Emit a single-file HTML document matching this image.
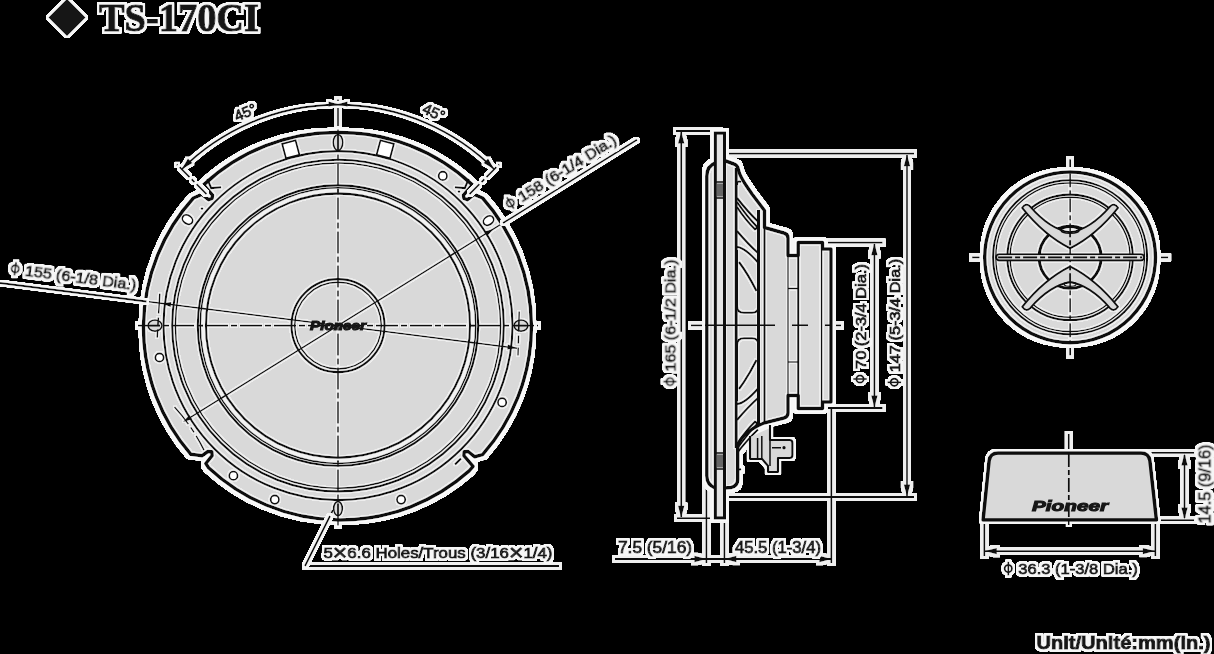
<!DOCTYPE html>
<html><head><meta charset="utf-8">
<style>
html,body{margin:0;padding:0;background:#000;}
body{width:1214px;height:654px;overflow:hidden;font-family:"Liberation Sans",sans-serif;}
svg{display:block;position:absolute;left:0;top:0;filter:blur(0.6px);}
text{font-family:"Liberation Sans",sans-serif;fill:#151515;stroke:#151515;stroke-width:1.0;}
.t{font-size:15px;}
.ln{stroke:#111;stroke-width:1.5;fill:none;}
.tk{stroke:#111;stroke-width:3.5;fill:none;}
.md{stroke:#111;stroke-width:2.1;fill:none;}
.g{fill:#d9d9d9;}
.w{fill:#fff;stroke:#111;stroke-width:1.7;}
.ar{fill:#111;stroke:none;}
.ho{fill:#d9d9d9;stroke:#111;stroke-width:1.5;}
.cl{stroke:#111;stroke-width:1.7;fill:none;stroke-dasharray:22 3 6 3;}
#dims .ln,#diag .ln{stroke-width:1.8;}
</style></head>
<body>
<svg width="1214" height="654" viewBox="0 0 1214 654">
<defs>
<filter id="halo" filterUnits="userSpaceOnUse" x="0" y="0" width="1214" height="654">
  <feComponentTransfer in="SourceAlpha" result="a"><feFuncA type="linear" slope="6"/></feComponentTransfer>
  <feMorphology in="a" operator="dilate" radius="2.1" result="d"/>
  <feGaussianBlur in="d" stdDeviation="0.6" result="b"/>
  <feFlood flood-color="#f6f6f6"/>
  <feComposite in2="b" operator="in" result="h"/>
  <feMerge><feMergeNode in="h"/><feMergeNode in="SourceGraphic"/></feMerge>
</filter>
<filter id="halo2" filterUnits="userSpaceOnUse" x="0" y="0" width="400" height="60">
  <feComponentTransfer in="SourceAlpha" result="a"><feFuncA type="linear" slope="6"/></feComponentTransfer>
  <feMorphology in="a" operator="dilate" radius="1.7" result="d"/>
  <feGaussianBlur in="d" stdDeviation="0.6" result="b"/>
  <feFlood flood-color="#f6f6f6"/>
  <feComposite in2="b" operator="in" result="h"/>
  <feMerge><feMergeNode in="h"/><feMergeNode in="SourceGraphic"/></feMerge>
</filter>
<filter id="inh" filterUnits="userSpaceOnUse" x="-400" y="-400" width="2000" height="1400">
  <feComponentTransfer in="SourceAlpha" result="a"><feFuncA type="linear" slope="6"/></feComponentTransfer>
  <feMorphology in="a" operator="dilate" radius="1.3" result="d"/>
  <feGaussianBlur in="d" stdDeviation="0.5" result="b"/>
  <feFlood flood-color="#fff" flood-opacity="0.55"/>
  <feComposite in2="b" operator="in" result="h"/>
  <feMerge><feMergeNode in="h"/><feMergeNode in="SourceGraphic"/></feMerge>
</filter>
<filter id="haloB" filterUnits="userSpaceOnUse" x="0" y="0" width="1214" height="654">
  <feComponentTransfer in="SourceAlpha" result="a"><feFuncA type="linear" slope="6"/></feComponentTransfer>
  <feMorphology in="a" operator="dilate" radius="3.2" result="d"/>
  <feGaussianBlur in="d" stdDeviation="0.6" result="b"/>
  <feFlood flood-color="#efefef"/>
  <feComposite in2="b" operator="in" result="h"/>
  <feMerge><feMergeNode in="h"/><feMergeNode in="SourceGraphic"/></feMerge>
</filter>
<filter id="halo4" filterUnits="userSpaceOnUse" x="0" y="0" width="1214" height="654">
  <feComponentTransfer in="SourceAlpha" result="a"><feFuncA type="linear" slope="6"/></feComponentTransfer>
  <feMorphology in="a" operator="dilate" radius="1.9" result="d"/>
  <feGaussianBlur in="d" stdDeviation="0.6" result="b"/>
  <feFlood flood-color="#f6f6f6"/>
  <feComposite in2="b" operator="in" result="h"/>
  <feMerge><feMergeNode in="h"/><feMergeNode in="SourceGraphic"/></feMerge>
</filter>
<filter id="halo3" filterUnits="userSpaceOnUse" x="0" y="0" width="1214" height="654">
  <feComponentTransfer in="SourceAlpha" result="a"><feFuncA type="linear" slope="6"/></feComponentTransfer>
  <feMorphology in="a" operator="dilate" radius="2.1" result="d"/>
  <feGaussianBlur in="d" stdDeviation="0.7" result="b"/>
  <feFlood flood-color="#f6f6f6"/>
  <feComposite in2="b" operator="in" result="h"/>
  <feMerge><feMergeNode in="h"/><feMergeNode in="SourceGraphic"/></feMerge>
</filter>
<g id="phi"><circle cx="5" cy="-5.5" r="3.6" fill="none" stroke="#151515" stroke-width="2"/><path d="M5 -12.3 V1.3" stroke="#151515" stroke-width="1.8" fill="none"/></g>
<path id="ah" d="M0 0 L-12 -3.2 L-12 3.2 Z" fill="#111"/>
<path id="ahs" d="M0 0 L-9 -2.6 L-9 2.6 Z" fill="#111"/>
</defs>
<rect width="1214" height="654" fill="#000"/>
<!-- TITLE -->
<g id="title" filter="url(#halo2)">
<path d="M67 -1 L85.5 17.5 L67 36 L48.5 17.5 Z" fill="#151515"/>
<text x="99" y="31" style="font-family:'Liberation Serif',serif;font-weight:bold;font-size:40px" textLength="160" lengthAdjust="spacingAndGlyphs">TS-170CI</text>
</g>

<g id="dims" filter="url(#haloB)">
<path class="ln" d="M338 131 V99.5"/>
<path class="ln" d="M305 566 H559"/>
<path class="ln" d="M676 131 H720 M677 518.2 H724 M681.2 132 V517"/>
<use href="#ah" transform="translate(681.2,131.5) rotate(-90)"/>
<use href="#ah" transform="translate(681.2,517.7) rotate(90)"/>
<path class="ln" d="M727.5 153.6 H914 M727.5 497 H914 M907 155 V496"/>
<use href="#ah" transform="translate(907,154.2) rotate(-90)"/>
<use href="#ah" transform="translate(907,496.4) rotate(90)"/>
<path class="ln" d="M825 242.6 H882.5 M825 408 H882.5 M874.4 244 V407"/>
<use href="#ah" transform="translate(874.4,243.2) rotate(-90)"/>
<use href="#ah" transform="translate(874.4,407.4) rotate(90)"/>
<path class="ln" d="M706.4 480 V563 M724.4 515 V563 M831.3 400 V563 M615 559 H831.3"/>
<use href="#ah" transform="translate(706.4,559) rotate(0)"/>
<use href="#ah" transform="translate(724.4,559) rotate(180)"/>
<use href="#ah" transform="translate(831.3,559) rotate(0)"/>
<path class="ln" d="M691 325.3 H706 M832 325.3 H841"/>
<path class="ln" d="M1070.1 159.3 V173 M1070.1 341.5 V355.3 M972.1 257.3 H986 M1154.2 257.3 H1168.1"/>
<path class="ln" d="M1149 452.9 H1194 M1157 520.1 H1194 M1184.5 455 V518"/>
<use href="#ah" transform="translate(1184.5,453.6) rotate(-90)"/>
<use href="#ah" transform="translate(1184.5,519.4) rotate(90)"/>
<path class="ln" d="M984.3 521 V556 M1155.3 521 V556 M985 551.1 H1154.6"/>
<use href="#ah" transform="translate(984.8,551.1) rotate(180)"/>
<use href="#ah" transform="translate(1154.8,551.1) rotate(0)"/>
<path class="ln" d="M1068.8 434 V452"/>
</g>
<g filter="url(#halo)">

<!-- MAIN SPEAKER -->
<g id="main" transform="translate(338,325.6)">
<!-- extension lines for 45deg dimension (drawn beneath) -->
<!-- outer body -->
<path class="g" d="M0.0 -193.0 A193 193 0 0 1 134.4 -140.7 L125.5 -130.5 L125.9 -127.3 L129.4 -125.9 L136.1 -131.2 L144.6 -127.6 A193 193 0 0 1 144.6 129.0 L136.8 131.2 L130.1 125.9 L126.2 126.2 L125.9 130.1 L135.1 140.7 L131.2 145.3 A193 193 0 0 1 -129.4 142.1 L-132.2 137.9 L-125.9 130.1 L-126.2 126.2 L-130.1 125.9 L-135.8 130.1 L-147.1 128.7 A193 193 0 0 1 -144.6 -127.6 L-136.1 -131.2 L-129.4 -125.9 L-125.9 -127.3 L-125.5 -130.5 L-134.4 -140.7 A193 193 0 0 1 0.0 -193.0 Z"/>
<g filter="url(#inh)">
<path class="tk" d="M0.0 -193.0 A193 193 0 0 1 134.4 -140.7 L125.5 -130.5 L125.9 -127.3 L129.4 -125.9 L136.1 -131.2 L144.6 -127.6 A193 193 0 0 1 144.6 129.0 L136.8 131.2 L130.1 125.9 L126.2 126.2 L125.9 130.1 L135.1 140.7 L131.2 145.3 A193 193 0 0 1 -129.4 142.1 L-132.2 137.9 L-125.9 130.1 L-126.2 126.2 L-130.1 125.9 L-135.8 130.1 L-147.1 128.7 A193 193 0 0 1 -144.6 -127.6 L-136.1 -131.2 L-129.4 -125.9 L-125.9 -127.3 L-125.5 -130.5 L-134.4 -140.7 A193 193 0 0 1 0.0 -193.0 Z" stroke-linejoin="round"/>
<circle r="174.5" class="md"/>
<circle r="165.8" class="md"/>
<circle r="162.6" class="ln"/>
<circle r="134.9" fill="none" stroke="#f2f2f2" stroke-width="3.4"/>
<circle r="140.2" class="md"/>
<circle r="137.8" class="ln"/>
<circle r="132" class="md"/>
<circle r="46.5" class="md"/>
<circle r="43.3" class="ln"/>
<path class="md" d="M-130.7 -146.7 L-126.8 -137.5 L-116.9 -138.3 M130.7 -146.7 L126.8 -137.5 L116.9 -138.3"/>
<circle cx="-136" cy="-117" r="1.2" fill="#111"/><circle cx="121" cy="-134" r="1.2" fill="#111"/>
<!-- white rects at top -->
<g transform="rotate(-15)"><rect x="-7" y="-190" width="14" height="15" class="w"/></g>
<g transform="rotate(15)"><rect x="-7" y="-190" width="14" height="15" class="w"/></g>
<!-- oblong holes -->
<ellipse cx="0" cy="-183.2" rx="4.8" ry="8" class="ho"/>
<ellipse cx="0" cy="183" rx="4.4" ry="7.2" class="ho"/>
<ellipse cx="-183" cy="0" rx="7" ry="5.6" class="ho"/>
<ellipse cx="183" cy="0" rx="7" ry="5.6" class="ho"/>
<!-- round holes -->
<circle cx="104.8" cy="-149.7" r="4.2" class="w"/>
<ellipse cx="-150.5" cy="-106" rx="5.6" ry="4.2" transform="rotate(35 -150.5 -106)" class="w"/>
<ellipse cx="150.5" cy="-105" rx="5.6" ry="4.2" transform="rotate(-35 150.5 -105)" class="w"/>
<circle cx="-178.5" cy="31.9" r="4.2" class="w"/>
<circle cx="164.1" cy="76.8" r="4.2" class="w"/>
<circle cx="-104.6" cy="150.1" r="4.2" class="w"/>
<circle cx="-63.2" cy="174" r="4.2" class="w"/>
<circle cx="63.1" cy="174" r="4.2" class="w"/>
<!-- centre lines -->
<path class="cl" d="M0 -196 V201"/>
<path class="cl" d="M-200 0 H200"/>
<!-- diameter lines -->
<path class="ln" d="M-152 94.5 L166 -103.2"/>
<path class="ln" d="M-193 -24.3 L179 22.6"/>
<!-- ticks + arrows for diameters -->
<path class="ln" d="M-178.2 -32 L-180.8 12 M181.2 -14 L180 30" stroke-dasharray="20 4 8 4"/>
<use href="#ahs" transform="translate(-176,-22.2) rotate(187.2)"/>
<use href="#ahs" transform="translate(178.5,22.5) rotate(7.2)"/>
<path class="ln" d="M-163.5 81.5 A182.8 182.8 0 0 1 -134 124.5" stroke-dasharray="22 4 6 4"/>
<path class="md" d="M123 133 L117 139 M-112 -150"/>
<use href="#ahs" transform="translate(-155,96.3) rotate(148.2)"/>
<use href="#ahs" transform="translate(155.5,-96.6) rotate(-31.8)"/>
<!-- 45deg arc dimension -->
</g>
<!-- Pioneer logo -->
<text x="0" y="4.5" text-anchor="middle" style="font-size:12px;font-weight:bold;font-style:italic" textLength="56" lengthAdjust="spacingAndGlyphs">Pioneer</text>
</g>
<!-- main speaker labels -->


<path class="ln" d="M333 510 L330 516"/>
<!-- SIDE VIEW -->
<g id="side">
<!-- body -->
<path class="g" d="M715.3 163 Q707 166 706.8 176 V476 Q707 485 715.3 488 H724.5 L731 487.5 Q737.7 486 737.7 479.5 V446 C741 436 752 428 764 423 L784 418 Q788 417 788 413 V395.5 H798.2 V408.5 H822.5 V402 H831 V249 H822.5 V242.5 H798.2 V255.5 H788 V238 Q788 234 784 233 L764.5 227.5 V210.5 L752 194 C746 185 740 178 738.5 170 Q737.5 165 734 164 L724.5 160.5 V133 H715.3 Z"/>
<g filter="url(#inh)">
<path class="tk" stroke-linejoin="round" d="M715.3 163 Q707 166 706.8 176 V476 Q707 485 715.3 488"/>
<path class="tk" stroke-linejoin="round" d="M724.5 160.5 L734 164 Q737.5 165 738.5 170 C740 178 746 185 752 194 L764.5 210.5 V227.5 L784 233 Q788 234 788 238 V255.5 H798.2 V242.5 H822.5 V249 H831 V402 H822.5 V408.5 H798.2 V395.5 H788 V413 Q788 417 784 418 L764 423 C752 428 741 436 737.7 446 V479.5 Q737.7 486 731 487.5 L724.5 488"/>
<!-- flange -->
<rect x="715.3" y="133" width="9.2" height="385" fill="#e4e4e4"/>
<path class="tk" style="stroke-width:3" d="M715.3 518 V133 H724.5 V518 Z"/>
<rect x="716.8" y="183.5" width="6.2" height="13" fill="#666"/>
<rect x="716.8" y="454.5" width="6.2" height="13" fill="#666"/>
<path class="ln" d="M715.3 182 H724.5 M715.3 198 H724.5 M715.3 453 H724.5 M715.3 469 H724.5"/>
<!-- interior verticals -->
<path class="tk" style="stroke-width:3" d="M736.2 168 V448"/>
<path class="tk" style="stroke-width:3" d="M758.5 210 V426"/>
<path class="md" d="M764.5 227 V423"/>
<path class="ln" d="M788 255 V396"/>
<path class="md" d="M798.2 255 V396"/>
<path class="ln" d="M788 288.5 H798 M788 362 H798"/>
<path class="ln" d="M821.6 249 V402"/>
<!-- windows top -->
<g id="win">
<path class="md" d="M737 185 Q737 180 741 182"/>
<path class="md" d="M737 198 Q748 212 758 221.5"/>
<path class="md" d="M737 202 Q747 216.5 756.3 226 Q757.5 228.5 755 229.3 Q745.5 220 737 207"/>
<path class="md" d="M737 231 Q748 244 758 253"/>
<path class="md" d="M737 247 Q745 247.5 758.5 263"/>
<path class="md" d="M739 262 Q748 274 756.5 291"/>
<path class="md" d="M737 250 V306 Q737 312.8 744 312.8 H752 Q758.5 312.8 758.5 306"/>
</g>
<use href="#win" transform="translate(0,651) scale(1,-1)"/>
</g>
<!-- centre line -->
<path class="ln" d="M705 325.3 H775 M792 325.3 H808 M825 325.3 H832"/>
<!-- terminal -->
<path class="g" d="M750 437 V459 H762 L768 466 V472 H778 V458 H790 Q792.5 458 792.5 455 V443 Q792.5 440 790 440 H770 V428 Z"/>
<path class="md" stroke-linejoin="round" d="M750 436 V459 H762 L768 466 V472 H778 V458 H790 Q792.5 458 792.5 455 V443 Q792.5 440 790 440 H770 V425"/>
<path class="ln" d="M757.6 438 V459 M761.8 436 V459 M770 440 V466 M772 447.7 H781"/>
<circle cx="784" cy="447.7" r="1.6" fill="#111"/>
</g>


<!-- TWEETER TOP VIEW -->
<g id="tweeterTop" transform="translate(1070.1,257.3)">
<circle r="85.4" class="g"/>
<g filter="url(#inh)">
<circle r="85.4" class="tk"/>
<circle r="77" class="md"/>
<circle r="74.3" class="ln"/>
<circle r="62.7" class="md"/>
<circle r="60" class="ln"/>
<circle r="31" class="tk" style="stroke-width:3"/>
<!-- centre lines -->
<!-- V bars -->
<path id="vbar" class="g" stroke="#111" stroke-width="1.9" stroke-linejoin="round" d="M-48 -49.5 Q-44 -55 -40 -51 Q-20 -28 0 -25 Q20 -28 40 -51 Q44 -55 48 -49.5 Q26 -22 0 -9 Q-26 -22 -48 -49.5 Z"/>
<use href="#vbar" transform="scale(1,-1)"/>
<ellipse cx="0" cy="-27" rx="9" ry="3" class="ln"/>
<ellipse cx="0" cy="27" rx="6" ry="2" class="ln"/>
<path class="cl" d="M0 -84 V84" style="stroke-dasharray:14 3 5 3"/>
<!-- horizontal bar -->
<rect x="-74" y="-3.2" width="148" height="6.4" rx="3.2" class="g" stroke="#111" stroke-width="1.9"/>
<path class="cl" d="M-72 0 H72" style="stroke-dasharray:14 3 5 3"/>
</g>
</g>

<!-- TWEETER SIDE VIEW -->
<g id="tweeterSide">
<path class="g" d="M983 520 L989 461 Q990 453 998 453 H1141 Q1149 453 1150 461 L1156.5 520 Z"/>
<path class="tk" stroke-linejoin="round" d="M983 520 L989 461 Q990 453 998 453 H1141 Q1149 453 1150 461 L1156.5 520 Z"/>
<path class="cl" d="M1068.8 453 V528" style="stroke-dasharray:14 3 5 3"/>
<text x="1070" y="510.5" text-anchor="middle" style="font-size:14px;font-weight:bold;font-style:italic" textLength="76" lengthAdjust="spacingAndGlyphs">Pioneer</text>
</g>


</g>
<g id="diag" filter="url(#halo4)">
<path class="ln" d="M206.5 194.1 L176.8 164.4 M469.5 194.1 L499.2 164.4" stroke-dasharray="14 3 4 3"/>
<g transform="translate(338,325.6)">
<path class="ln" d="M-156.3 -156.3 A221.5 221.5 0 0 1 156.3 -156.3"/>
<use href="#ah" transform="translate(-156.3,-156.3) rotate(135) "/>
<use href="#ah" transform="translate(156.3,-156.3) rotate(45)"/>
<use href="#ahs" transform="translate(-0.5,-221.5) rotate(0)"/>
<use href="#ahs" transform="translate(0.5,-221.5) rotate(180)"/>
</g>
<path class="ln" d="M503 223.1 L637 139.8"/>
<path class="ln" d="M0 283 L146.5 301.5"/>
<path class="ln" d="M330 516 L305 566"/>
</g>
<g id="labels" filter="url(#halo3)">
<text class="t" transform="translate(245.4,112.5) rotate(-23.5)" text-anchor="middle" y="5">45°</text>
<text class="t" transform="translate(433.8,112.5) rotate(23.5)" text-anchor="middle" y="5">45°</text>
<g transform="translate(509,210.3) rotate(-31.8)"><use href="#phi"/><text class="t" x="15" y="0" style="font-size:15px" textLength="113" lengthAdjust="spacingAndGlyphs">158 (6-1/4 Dia.)</text></g>
<g transform="translate(9.6,273.6) rotate(7.5)"><use href="#phi"/><text class="t" x="15" y="0" style="font-size:15px" textLength="112" lengthAdjust="spacingAndGlyphs">155 (6-1/8 Dia.)</text></g>
<text class="t" x="323.5" y="558" textLength="229" lengthAdjust="spacingAndGlyphs">5<tspan style="font-size:22px" dy="2.2">×</tspan><tspan dy="-2.2">6.6 Holes/Trous (3/16</tspan><tspan style="font-size:22px" dy="2.2">×</tspan><tspan dy="-2.2">1/4)</tspan></text>
<g transform="translate(675.5,386.6) rotate(-90)"><use href="#phi"/><text class="t" x="15" y="0" style="font-size:15px" textLength="112" lengthAdjust="spacingAndGlyphs">165 (6-1/2 Dia.)</text></g>
<g transform="translate(865.5,384) rotate(-90)"><use href="#phi"/><text class="t" x="15" y="0" style="font-size:15px" textLength="105" lengthAdjust="spacingAndGlyphs">70 (2-3/4 Dia.)</text></g>
<g transform="translate(899.8,387.3) rotate(-90)"><use href="#phi"/><text class="t" x="15" y="0" style="font-size:15px" textLength="113.5" lengthAdjust="spacingAndGlyphs">147 (5-3/4 Dia.)</text></g>
<text class="t" x="618" y="552.5" style="font-size:16px" textLength="74" lengthAdjust="spacingAndGlyphs">7.5 (5/16)</text>
<text class="t" x="735" y="552.5" style="font-size:16px" textLength="86" lengthAdjust="spacingAndGlyphs">45.5 (1-3/4)</text>
<g transform="translate(1003.3,574.1) rotate(0)"><use href="#phi"/><text class="t" x="15" y="0" style="font-size:15px" textLength="119.5" lengthAdjust="spacingAndGlyphs">36.3 (1-3/8 Dia.)</text></g>
<text class="t" transform="translate(1210.5,523.5) rotate(-90)" style="font-size:16px" textLength="79" lengthAdjust="spacingAndGlyphs">14.5 (9/16)</text>
<text x="1036.5" y="648.5" style="font-size:18px;font-weight:bold" textLength="174" lengthAdjust="spacingAndGlyphs">Unit/Unité:mm(in.)</text>
</g>
</svg>
</body></html>
